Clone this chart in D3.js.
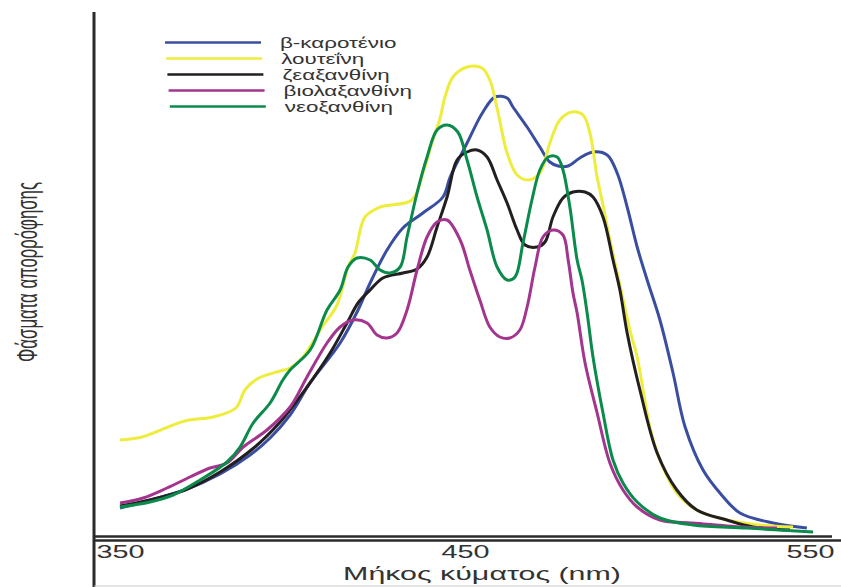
<!DOCTYPE html>
<html>
<head>
<meta charset="utf-8">
<script src="https://cdn.jsdelivr.net/npm/d3@7"></script>
<style>
  body { margin: 0; background: #fff; }
  svg { display: block; }
</style>
</head>
<body>
<script>
// pigment spectra: [wavelength nm, relative absorbance 0-100]
var betaKarotenio = [[350,5.8],[358.7,7.4],[368.8,9.4],[379,12.6],[387.7,16.4],[393.5,19.8],[399.3,24.4],[405.1,30.8],
	[413.8,38.8],[419,45.4],[422.5,50.8],[427.4,57.4],[432,61.8],[437.8,64.8],[443.6,68],[445.7,72],[450.6,78.8],
	[455.2,85],[458.7,88],[462.2,87.8],[463.9,86],[468,82],[471.7,78],[474.6,75],[477,74.2],[479.9,74.2],[483.3,75.8],
	[487.1,77],[491.2,76.4],[494.1,72.8],[497,66],[499.9,58],[502.8,51.4],[506.5,43.4],[510.3,32.8],[513.8,22],
	[519,13.4],[523.9,8.8],[529.7,4.8],[539.3,2.8],[549.1,1.8]];

var louteini = [[350,19.4],[356.4,20],[368.8,23.2],[377,24],[383.6,25.8],[386.2,29.4],[389.7,31.6],[396.4,33.2],
	[399.3,33.8],[402.8,35.8],[408.6,42],[412.9,46.4],[416.1,54],[418.1,56.8],[421,64],[425.4,66],[434.6,67.4],
	[437.8,72.8],[440.4,78.8],[442.8,83.8],[444.2,88],[446.5,92],[450.6,94],[454.9,93.8],[457.2,91.4],[459.6,84.8],
	[462.2,76.8],[465.1,72.4],[468.3,71.4],[471.7,72.8],[474.6,78.8],[477.5,83.4],[481,85],[484.2,84.4],[486.2,80.8],
	[488.3,72],[490,66.4],[492,59.4],[494.9,50.4],[497.8,41.4],[499.9,36],[503.6,22],[506.5,15.4],[511.4,8.8],
	[517.2,5.4],[525.9,3.4],[535.5,2.4],[545.1,2]];

var zeaxanthini = [[350,6.2],[358.7,7.4],[368.8,9.4],[379,13],[389.1,18],[396.4,23],[404.2,30],[410.9,36.8],
	[415.8,42.8],[419,46.8],[422.5,49.4],[426.2,51.8],[432,52.8],[436.1,53.6],[439,56],[441.9,62],[444.8,68],
	[447.7,75.4],[450.6,77],[453.5,77.4],[456.4,76],[459.3,71.4],[462.2,66.8],[465.1,61.4],[467.4,58.4],[470.9,58],
	[473.2,59],[475.5,64],[478.4,67.8],[481.3,69],[484.8,69],[487.1,68],[490,64],[492.9,55.4],[494.9,49.4],
	[497,40.8],[500.7,29.4],[505.7,16.8],[511.4,9.4],[517.2,5.4],[525.9,3.4],[533.5,2],[544.2,1.4]];

var violaxanthini = [[350,6.8],[356.7,7.8],[363.6,9.8],[370.3,12],[376.1,13.8],[381,14.8],[385.7,18],[392.6,21.4],
	[399.3,26],[404.2,32],[410,38.8],[413.8,42],[417.5,43.4],[421.6,42.8],[424.5,40.4],[427.4,39.8],[430.3,40.8],
	[433.2,45.4],[436.1,53.4],[439,60],[441.9,63],[444.8,63.4],[448.6,59.4],[451.4,53.4],[454.3,47.4],[457.2,42],
	[460.1,40],[463,39.8],[465.9,41.4],[468,46],[470.3,54],[472.6,60],[475.5,61.4],[478.4,60.4],[479.9,55.4],
	[481.3,48.8],[482.5,44.8],[484.8,34.8],[488.3,24.8],[492,14.8],[495.8,9.4],[499.9,6],[506.5,3.4],[516.1,2.8],
	[530.6,2],[540.4,1.8]];

var neoxanthini = [[350,6],[358.7,7],[365.4,8.4],[373.2,11.4],[381,15],[384.8,18],[388.6,22.8],[393.5,26.8],
	[397.2,31.4],[399.3,33.4],[405.1,37.4],[410,45.4],[413.8,49.4],[416.1,54],[418.7,55.8],[422.5,55.4],[425.4,53.4],
	[428.3,52.8],[431.2,54],[433.2,60],[436.1,68.8],[439,76],[441.9,81.4],[444.8,82.4],[447.9,81],[450.6,75.4],
	[453.5,68],[456.4,61.4],[459.3,54],[462.2,51.4],[464.5,52],[466.8,58.8],[469.4,67.4],[471.7,73.4],[474.1,76],
	[476.7,76],[478.4,73.4],[480.4,66],[482.5,55.4],[483.9,51.4],[485.4,44.8],[487.1,36],[490,24.8],[492.9,15.4],
	[495.8,10.8],[499.9,7],[506.5,3.8],[516.1,2.4],[531.7,1.8],[550.9,1]];

var onomata = ["β-καροτένιο", "λουτεΐνη", "ζεαξανθίνη", "βιολαξανθίνη", "νεοξανθίνη"];
var xTicks = [350, 450, 550];
var xTitle = "Μήκος κύματος (nm)";
var yTitle = "Φάσματα απορρόφησης";

var seires = [betaKarotenio, louteini, zeaxanthini, violaxanthini, neoxanthini];
var xromata = ["#3a4ea1", "#eeec3c", "#231f20", "#a3358f", "#0b8b4b"];

var svgW = 841;
var svgH = 587;
var stretch = "scale(1.6,1)"; // the original lettering is widened horizontally
var fuente = "'Liberation Sans', Arial, sans-serif";

function graficar(){
	var svg =   d3.select("body")
				  .append("svg")
				  .attr("width", svgW)
				  .attr("height", svgH)
				  ;

	var xScale = d3.scaleLinear()
				   .domain([350, 550])
				   .range([120, 810])
				   ;

	var yScale = d3.scaleLinear()
				   .domain([0, 100])
				   .range([537, 37])
				   ;

	/* ---------- frame ---------- */
	svg.append("line")
	   .attr("x1", 94).attr("y1", 12)
	   .attr("x2", 94).attr("y2", svgH)
	   .attr("stroke", "#2b2b2b")
	   .attr("stroke-width", 3)
	   ;

	svg.append("line")
	   .attr("x1", 94).attr("y1", 536.5)
	   .attr("x2", 832).attr("y2", 536.5)
	   .attr("stroke", "#2b2b2b")
	   .attr("stroke-width", 2.5)
	   ;

	svg.append("line")
	   .attr("x1", 94).attr("y1", 540.5)
	   .attr("x2", svgW).attr("y2", 540.5)
	   .attr("stroke", "#2b2b2b")
	   .attr("stroke-width", 2.5)
	   ;

	svg.append("line")
	   .attr("x1", 94).attr("y1", 586)
	   .attr("x2", svgW).attr("y2", 586)
	   .attr("stroke", "#cccccc")
	   .attr("stroke-width", 1)
	   ;

	/* ---------- axis ---------- */
	var xAxis = d3.axisBottom()
				  .scale(xScale)
				  .tickValues(xTicks)
				  .tickSize(0)
				  .tickPadding(0)
				  ;

	var gx = svg.append("g")
				.attr("transform", "translate(0,558)")
				.call(xAxis)
				;
	gx.select(".domain").remove();
	gx.selectAll("text")
	  .attr("dy", null)
	  .attr("y", 0)
	  .attr("transform", stretch)
	  .attr("font-family", fuente)
	  .attr("font-size", "18px")
	  .attr("fill", "#333")
	  ;

	svg.append("text")
	   .attr("transform", "translate(482,580) " + stretch)
	   .attr("text-anchor", "middle")
	   .attr("font-family", fuente)
	   .attr("font-size", "19px")
	   .attr("fill", "#333")
	   .text(xTitle)
	   ;

	svg.append("text")
	   .attr("transform", "translate(37,272) " + stretch + " rotate(-90)")
	   .attr("text-anchor", "middle")
	   .attr("font-family", fuente)
	   .attr("font-size", "18px")
	   .attr("fill", "#333")
	   .attr("textLength", 180)
	   .attr("lengthAdjust", "spacingAndGlyphs")
	   .text(yTitle)
	   ;

	/* ---------- curves ---------- */
	var linea = d3.line()
				  .x(function (d) { return xScale(d[0]); })
				  .y(function (d) { return yScale(d[1]); })
				  .curve(d3.curveCatmullRom.alpha(0.5))
				  ;

	svg.selectAll("path.curva")
	   .data(seires)
	   .enter()
	   .append("path")
	   .attr("class", "curva")
	   .attr("d", linea)
	   .attr("fill", "none")
	   .attr("stroke", function (d, i) { return xromata[i]; })
	   .attr("stroke-width", 3)
	   .attr("stroke-linejoin", "round")
	   ;

	/* ---------- legend ---------- */
	var leyenda = svg.selectAll("g.leyenda")
					 .data(onomata)
					 .enter()
					 .append("g")
					 .attr("class", "leyenda")
					 .attr("transform", function (d, i) { return "translate(" + (165 + i * 1.2) + "," + (42.5 + i * 16) + ")"; })
					 ;

	leyenda.append("line")
		   .attr("x1", 0).attr("y1", 0)
		   .attr("x2", 96).attr("y2", 0)
		   .attr("stroke", function (d, i) { return xromata[i]; })
		   .attr("stroke-width", 2.5)
		   ;

	leyenda.append("text")
		   .attr("transform", "translate(115,5) " + stretch)
		   .attr("font-family", fuente)
		   .attr("font-size", "14px")
		   .attr("fill", "#333")
		   .text(function (d) { return d; })
		   ;
}

graficar();
</script>
</body>
</html>
